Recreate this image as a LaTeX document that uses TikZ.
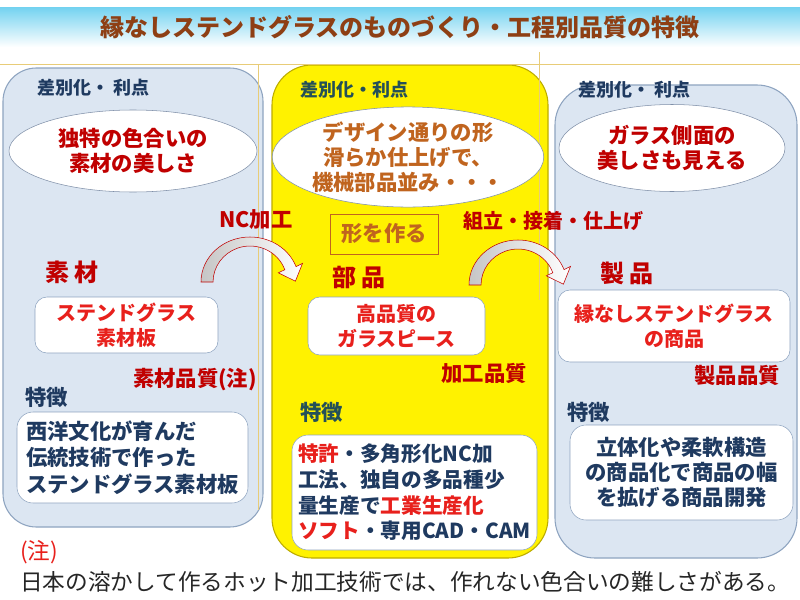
\documentclass[tikz,border=0pt]{standalone}
\usepackage{fontspec}
\setmainfont{Noto Sans CJK JP}
\usetikzlibrary{shapes.geometric,positioning}
\definecolor{dred}{HTML}{C00000}
\definecolor{bred}{HTML}{E8201C}
\definecolor{navy}{HTML}{1F3A60}
\definecolor{dteal}{HTML}{245058}
\definecolor{obrown}{HTML}{C0641E}
\definecolor{titlebr}{HTML}{8E3F14}
\definecolor{titlecy}{HTML}{72D2F0}
\definecolor{panelbg}{HTML}{DCE6F2}
\definecolor{panelln}{HTML}{8EA4C0}
\definecolor{ovalln}{HTML}{7F8FA8}
\definecolor{goldln}{HTML}{E8CC78}
\definecolor{yelln}{HTML}{BCAC00}
\tikzset{
  panel/.style={draw=panelln,fill=panelbg,thick},
  oval/.style={ellipse,draw=ovalln,fill=white,align=center,inner sep=0pt,text=dred,
    font=\bfseries\fontsize{16}{18.75}\selectfont},
  card/.style={draw=panelln,fill=white,rounded corners=9pt,align=center,inner sep=0pt,
    text=bred,font=\bfseries\fontsize{15}{19}\selectfont},
  feat/.style={draw=panelln,fill=white,rounded corners=12pt,inner sep=0pt,text=navy,
    font=\bfseries\fontsize{16}{19.8}\selectfont},
  hd/.style={anchor=west,inner sep=0pt,text=navy,font=\bfseries\fontsize{13.5}{16}\selectfont},
  stage/.style={anchor=west,inner sep=0pt,text=dred,font=\bfseries\fontsize{18}{22}\selectfont},
  qual/.style={anchor=east,inner sep=0pt,text=dred,font=\bfseries\fontsize{16}{20}\selectfont},
  proc/.style={inner sep=0pt,text=dred,font=\bfseries\fontsize{16}{20}\selectfont}
}
% curved block arrow, #1,#2 = centre of its arc
\newcommand{\bentar}[2]{%
  \begin{scope}[shift={(#1,#2)}]
  \draw[dred,left color=gray!45,right color=white] (-49,0)
    arc[start angle=180,end angle=340,x radius=49,y radius=45]
    -- (52.5,-18.6) -- (45.4,-0.8) -- (28.3,-9.2) -- (34.8,-12.3)
    arc[start angle=340,end angle=180,x radius=37,y radius=36] -- cycle;
  \end{scope}}

\begin{document}
\begin{tikzpicture}[x=0.75pt,y=-0.75pt]
\useasboundingbox (0,0) rectangle (800,600);
\fill[white] (0,0) rectangle (800,600);
\shade[top color=titlecy,bottom color=white] (0,7) rectangle (800,47);
\node[inner sep=0pt,text=titlebr,font=\bfseries\fontsize{18}{22}\selectfont] (title) at (400,27)
  {縁なしステンドグラスのものづくり・工程別品質の特徴};

% three columns
\draw[panel,rounded corners=25pt] (3,68) rectangle (263,527);
\draw[draw=yelln,fill=yellow,thick,rounded corners=30pt] (272,65) rectangle (548,558);
\draw[panel,rounded corners=30pt] (555,85) rectangle (797,558);
\draw[goldln] (0,64) -- (800,64);
\draw[goldln] (258,64) -- (258,510);
\draw[goldln] (539,52) -- (539,300);

% material
\node[hd] (mathd) at (37,88) {差別化・ 利点};
\node[oval,minimum width=186pt,minimum height=61.5pt] (matoval) at (133,151) {独特の色合いの\\素材の美しさ};
\node[stage] (mat) at (45,272) {素 材};
\node[card,minimum width=137.25pt,minimum height=42pt] (matbox) at (126.5,325) {ステンドグラス\\素材板};
\node[qual] (matq) at (257,380) {素材品質(注)};
\node[hd,font=\bfseries\fontsize{16}{20}\selectfont] (matft) at (25,397) {特徴};
\node[feat,align=left,minimum width=173.25pt,minimum height=68.25pt] (matfbox) at (132.5,457.5)
  {西洋文化が育んだ\\伝統技術で作った\\ステンドグラス素材板};

% part
\node[hd,text=dteal] (parthd) at (300,90) {差別化・利点};
\node[oval,text=obrown,minimum width=198.75pt,minimum height=75pt] (partoval) at (408,157)
  {デザイン通りの形\\滑らか仕上げで、\\機械部品並み・・・};
\node[draw=obrown,inner sep=0pt,minimum width=81pt,minimum height=30pt,text=obrown,
  font=\bfseries\fontsize{16}{20}\selectfont] (shape) at (384,234) {形を作る};
\node[stage] (part) at (332,277) {部 品};
\node[card,minimum width=132.75pt,minimum height=43.5pt] (partbox) at (396.5,326) {高品質の\\ガラスピース};
\node[qual] (partq) at (527,373) {加工品質};
\node[hd,text=dteal,font=\bfseries\fontsize{16}{20}\selectfont] (partft) at (300,412) {特徴};
\node[feat,align=left,minimum width=183.75pt,minimum height=86.25pt,
  font=\bfseries\fontsize{15.5}{19.3}\selectfont] (partfbox) at (414.5,492.5)
  {{\color{bred}特許}・多角形化NC加\\工法、独自の多品種少\\量生産で{\color{bred}工業生産化}\\{\color{bred}ソフト}・専用CAD・CAM};

% product
\node[hd] (prodhd) at (578,90) {差別化・ 利点};
\node[oval,minimum width=169.5pt,minimum height=65.25pt] (prodoval) at (672,148) {ガラス側面の\\美しさも見える};
\node[stage] (prod) at (600,273) {製 品};
\node[card,minimum width=174pt,minimum height=54pt] (prodbox) at (674,326) {縁なしステンドグラス\\の商品};
\node[qual] (prodq) at (780,375) {製品品質};
\node[hd,font=\bfseries\fontsize{16}{20}\selectfont] (prodft) at (567,412) {特徴};
\node[feat,align=center,minimum width=167.25pt,minimum height=71.25pt,
  font=\bfseries\fontsize{16}{18.5}\selectfont] (prodfbox) at (681.5,472.5)
  {立体化や柔軟構造\\の商品化で商品の幅\\を拡げる商品開発};

% process steps
\node[proc] (nc) at (256,220) {NC加工};
\node[proc,font=\bfseries\fontsize{15}{20}\selectfont] (asm) at (553,221) {組立・接着・仕上げ};
\bentar{250}{282}
\bentar{518}{285}

% note
\node[anchor=west,inner sep=0pt,text=bred,font=\fontsize{17}{20}\selectfont] (notemk) at (20,552) {(注)};
\node[anchor=west,inner sep=0pt,text=black!85,font=\fontsize{17}{20}\selectfont] (note) at (20,582)
  {日本の溶かして作るホット加工技術では、作れない色合いの難しさがある。};
\end{tikzpicture}
\end{document}
